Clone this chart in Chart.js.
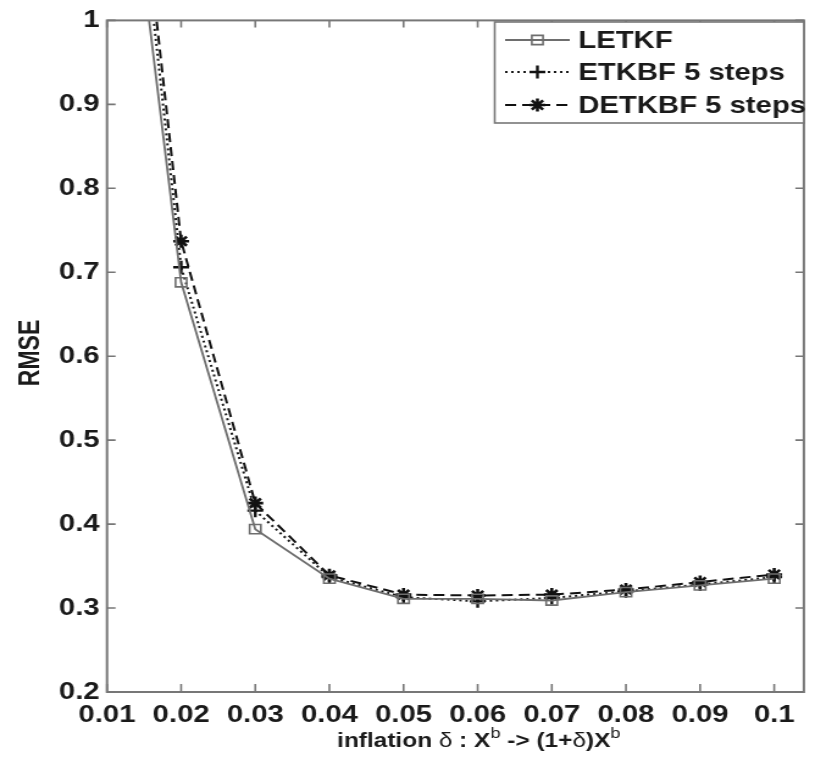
<!DOCTYPE html>
<html><head><meta charset="utf-8">
<script src="https://cdn.jsdelivr.net/npm/chart.js@4/dist/chart.umd.min.js"></script>
<style>
html,body{margin:0;padding:0;background:#fff;overflow:hidden}
#wrap{width:668px;height:760px;transform:scaleX(1.22);transform-origin:0 0}
canvas{display:block}
</style></head>
<body><div id="wrap"><canvas id="c" width="668" height="760"></canvas></div>
<script>
// ---- data ----
const inflation = [0.01, 0.02, 0.03, 0.04, 0.05, 0.06, 0.07, 0.08, 0.09, 0.1];
const letkf  = [1.41, 0.688, 0.394, 0.335, 0.311, 0.311, 0.309, 0.319, 0.327, 0.335];
const etkbf  = [1.50, 0.706, 0.416, 0.337, 0.313, 0.308, 0.312, 0.320, 0.328, 0.337];
const detkbf = [1.53, 0.737, 0.425, 0.339, 0.316, 0.315, 0.316, 0.322, 0.331, 0.340];
const seriesNames = ['LETKF', 'ETKBF 5 steps', 'DETKBF 5 steps'];
const xTicks = [0.01, 0.02, 0.03, 0.04, 0.05, 0.06, 0.07, 0.08, 0.09, 0.1];
const yTicks = [0.2, 0.3, 0.4, 0.5, 0.6, 0.7, 0.8, 0.9, 1];
const yLabel = 'RMSE';

const FONT = "'Liberation Sans', Arial, Helvetica, sans-serif";
Chart.defaults.font.family = FONT;

const pts = arr => inflation.map((x, i) => ({x: x, y: arr[i]}));

const datasets = [
  {label: seriesNames[0], data: pts(letkf), borderColor: '#6e6e6e', borderWidth: 1.8,
   pointStyle: 'rect', pointRadius: 6.5, pointBorderWidth: 1.6,
   pointBorderColor: '#6e6e6e', pointBackgroundColor: 'rgba(0,0,0,0)', borderDash: []},
  {label: seriesNames[1], data: pts(etkbf), borderColor: '#1a1a1a', borderWidth: 2,
   pointStyle: 'cross', pointRadius: 6.5, pointBorderWidth: 2.4,
   pointBorderColor: '#111', pointBackgroundColor: '#111', borderDash: [2, 3]},
  {label: seriesNames[2], data: pts(detkbf), borderColor: '#111', borderWidth: 2,
   pointStyle: 'star', pointRadius: 6.5, pointBorderWidth: 2.6,
   pointBorderColor: '#111', pointBackgroundColor: '#111', borderDash: [9, 5]}
];
datasets.forEach(d => { d.fill = false; d.tension = 0; d.pointHoverRadius = d.pointRadius; });

const frameColor = '#777';
const textColor = '#1a1a1a';
const decor = {
  id: 'decor',
  afterDraw(chart) {
    const {ctx, chartArea: a, scales: {x, y}} = chart;
    ctx.save();
    // frame
    ctx.strokeStyle = frameColor; ctx.lineWidth = 2;
    ctx.strokeRect(a.left, a.top, a.right - a.left, a.bottom - a.top);
    // inward ticks
    ctx.lineWidth = 1.6;
    ctx.beginPath();
    xTicks.forEach(v => {
      const px = x.getPixelForValue(v);
      ctx.moveTo(px, a.bottom); ctx.lineTo(px, a.bottom - 8);
      ctx.moveTo(px, a.top); ctx.lineTo(px, a.top + 7);
    });
    yTicks.forEach(v => {
      const py = y.getPixelForValue(v);
      ctx.moveTo(a.left, py); ctx.lineTo(a.left + 7, py);
      ctx.moveTo(a.right, py); ctx.lineTo(a.right - 7, py);
    });
    ctx.stroke();

    // y title
    ctx.fillStyle = textColor;
    ctx.save();
    ctx.translate(25.5, 353);
    ctx.rotate(-Math.PI / 2);
    ctx.font = `bold 23px ${FONT}`;
    ctx.textAlign = 'center'; ctx.textBaseline = 'middle';
    ctx.fillText(yLabel, 0, 0);
    ctx.restore();

    // x title with superscripts
    const parts = [
      {t: 'inflation ', f: `bold 20px ${FONT}`, dy: 0},
      {t: 'δ', f: `20px ${FONT}`, dy: 0},
      {t: ' : X', f: `bold 20px ${FONT}`, dy: 0},
      {t: 'b', f: `15px ${FONT}`, dy: -9},
      {t: ' -> (1+', f: `bold 20px ${FONT}`, dy: 0},
      {t: 'δ', f: `20px ${FONT}`, dy: 0},
      {t: ')X', f: `bold 20px ${FONT}`, dy: 0},
      {t: 'b', f: `15px ${FONT}`, dy: -9}
    ];
    let total = 0;
    parts.forEach(p => { ctx.font = p.f; p.w = ctx.measureText(p.t).width; total += p.w; });
    let cx = 392.5 - total / 2;
    ctx.textAlign = 'left'; ctx.textBaseline = 'alphabetic';
    parts.forEach(p => { ctx.font = p.f; ctx.fillText(p.t, cx, 747 + p.dy); cx += p.w; });

    // legend
    const lx0 = 405.5, lx1 = a.right, ly0 = 22, ly1 = 123;
    ctx.fillStyle = '#fff';
    ctx.fillRect(lx0, ly0, lx1 - lx0, ly1 - ly0);
    ctx.strokeStyle = frameColor; ctx.lineWidth = 1.6;
    ctx.strokeRect(lx0, ly0, lx1 - lx0, ly1 - ly0);
    const rows = [40, 72, 105];
    chart.data.datasets.forEach((d, i) => {
      const ry = rows[i];
      ctx.save();
      ctx.strokeStyle = d.borderColor; ctx.lineWidth = d.borderWidth;
      ctx.setLineDash(d.borderDash || []);
      ctx.beginPath(); ctx.moveTo(414, ry); ctx.lineTo(467, ry); ctx.stroke();
      ctx.restore();
      ctx.save();
      ctx.strokeStyle = d.pointBorderColor; ctx.fillStyle = d.pointBackgroundColor;
      ctx.lineWidth = d.pointBorderWidth;
      Chart.helpers.drawPoint(ctx, {pointStyle: d.pointStyle, radius: d.pointRadius,
        borderWidth: d.pointBorderWidth, rotation: 0}, 440.5, ry);
      ctx.restore();
      ctx.fillStyle = textColor;
      ctx.font = `bold 24px ${FONT}`;
      ctx.textAlign = 'left'; ctx.textBaseline = 'middle';
      ctx.fillText(d.label, 474, ry + 1);
    });
    ctx.restore();
  }
};

new Chart(document.getElementById('c'), {
  type: 'line',
  data: {datasets: datasets},
  options: {
    responsive: false,
    animation: false,
    devicePixelRatio: 1,
    layout: {padding: {left: 0, top: 14, right: 1.5, bottom: 0}},
    plugins: {legend: {display: false}, tooltip: {enabled: false}},
    scales: {
      x: {
        type: 'linear', min: 0.01, max: 0.104,
        afterBuildTicks: s => { s.ticks = xTicks.map(v => ({value: v})); },
        afterFit: s => { s.height = 68; },
        grid: {display: false, drawTicks: false},
        border: {display: false},
        ticks: {padding: 9, color: textColor, font: {size: 24, weight: 'bold'}, maxRotation: 0,
                autoSkip: false, callback: v => String(v)}
      },
      y: {
        type: 'linear', min: 0.2, max: 1,
        afterBuildTicks: s => { s.ticks = yTicks.map(v => ({value: v})); },
        afterFit: s => { s.width = 87.7; },
        grid: {display: false, drawTicks: false},
        border: {display: false},
        ticks: {padding: 6, color: textColor, font: {size: 24, weight: 'bold'}, autoSkip: false,
                callback: v => String(v)}
      }
    }
  },
  plugins: [decor]
});
</script>
</body></html>
